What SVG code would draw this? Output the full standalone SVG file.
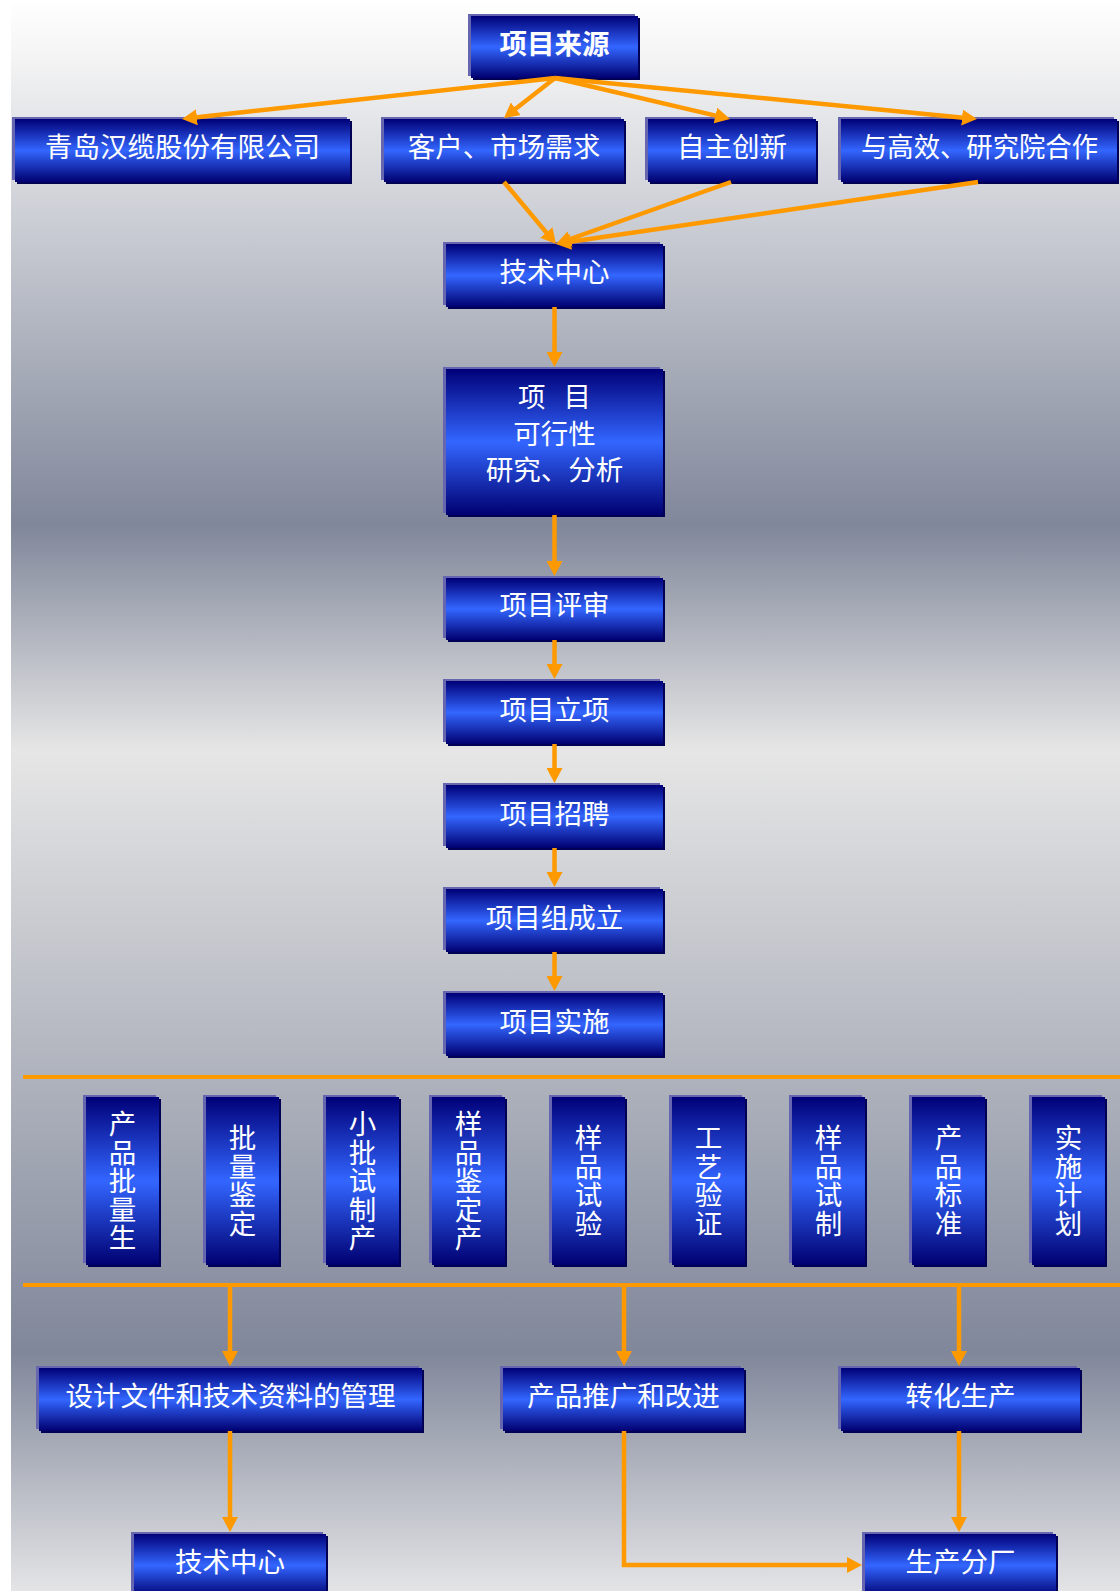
<svg xmlns="http://www.w3.org/2000/svg" width="1120" height="1591" viewBox="0 0 1120 1591">
<defs>
<linearGradient id="bg" x1="0" y1="0" x2="0" y2="1591" gradientUnits="userSpaceOnUse">
<stop offset="0" stop-color="#ffffff"/>
<stop offset="0.03" stop-color="#f6f6f6"/>
<stop offset="0.33" stop-color="#80879a"/>
<stop offset="0.472" stop-color="#e6e6e6"/>
<stop offset="0.85" stop-color="#80879a"/>
<stop offset="1" stop-color="#e4e4e6"/>
</linearGradient>
<linearGradient id="box" x1="0" y1="0" x2="0" y2="1">
<stop offset="0" stop-color="#000078"/>
<stop offset="0.5" stop-color="#3366ff"/>
<stop offset="1" stop-color="#000070"/>
</linearGradient>
<marker id="arr" markerUnits="userSpaceOnUse" markerWidth="16" markerHeight="16" refX="9" refY="8" orient="auto">
<path d="M0,0 L15,8 L0,16 z" fill="#ff9900"/>
</marker>
<style>
.hl{fill:#6666b0}
.sh{fill:#000055}
.mn{fill:url(#box)}
.t{font-family:"Noto Sans CJK SC","Noto Sans CJK JP",sans-serif;font-size:27.5px;fill:#ffffff;text-anchor:middle}
.b{font-weight:bold}
.c{stroke:#ff9900;stroke-width:4.5;fill:none}
.c path{marker-end:url(#arr)}
.rule{stroke:#ff9900;stroke-width:4;fill:none}
</style>
</defs>
<rect x="0" y="0" width="1120" height="1591" fill="#ffffff"/>
<rect x="11" y="0" width="1109" height="1591" fill="url(#bg)"/>

<g id="n-source"><rect class="sh" x="473" y="18" width="167" height="62"/><rect class="hl" x="468" y="14" width="167" height="62"/><rect class="mn" x="471" y="16" width="167" height="62"/><text class="t b" x="554.5" y="53.5">项目来源</text></g>

<g id="n-qingdao"><rect class="sh" x="17" y="121" width="335" height="63"/><rect class="hl" x="12" y="117" width="335" height="63"/><rect class="mn" x="15" y="119" width="335" height="63"/><text class="t" x="182.5" y="157">青岛汉缆股份有限公司</text></g>
<g id="n-market"><rect class="sh" x="386" y="121" width="240" height="63"/><rect class="hl" x="381" y="117" width="240" height="63"/><rect class="mn" x="384" y="119" width="240" height="63"/><text class="t" x="504" y="157">客户、市场需求</text></g>
<g id="n-innov"><rect class="sh" x="650" y="121" width="168" height="63"/><rect class="hl" x="645" y="117" width="168" height="63"/><rect class="mn" x="648" y="119" width="168" height="63"/><text class="t" x="732" y="157">自主创新</text></g>
<g id="n-coop"><rect class="sh" x="843" y="121" width="276" height="63"/><rect class="hl" x="838" y="117" width="276" height="63"/><rect class="mn" x="841" y="119" width="276" height="63"/><text class="t" x="979.5" y="157" textLength="237" lengthAdjust="spacingAndGlyphs">与高效、研究院合作</text></g>

<g id="n-tech1"><rect class="sh" x="448" y="246" width="217" height="63"/><rect class="hl" x="443" y="242" width="217" height="63"/><rect class="mn" x="446" y="244" width="217" height="63"/><text class="t" x="554.5" y="281.5">技术中心</text></g>
<g id="n-feas"><rect class="sh" x="448" y="371" width="217" height="146"/><rect class="hl" x="443" y="367" width="217" height="146"/><rect class="mn" x="446" y="369" width="217" height="146"/><text class="t" x="554.5" y="407" xml:space="preserve" word-spacing="12">项 目</text><text class="t" x="554.5" y="444">可行性</text><text class="t" x="554.5" y="480">研究、分析</text></g>
<g id="n-review"><rect class="sh" x="448" y="580" width="217" height="62"/><rect class="hl" x="443" y="576" width="217" height="62"/><rect class="mn" x="446" y="578" width="217" height="62"/><text class="t" x="554.5" y="615">项目评审</text></g>
<g id="n-approve"><rect class="sh" x="448" y="683" width="217" height="63"/><rect class="hl" x="443" y="679" width="217" height="63"/><rect class="mn" x="446" y="681" width="217" height="63"/><text class="t" x="554.5" y="719.5">项目立项</text></g>
<g id="n-recruit"><rect class="sh" x="448" y="787" width="217" height="63"/><rect class="hl" x="443" y="783" width="217" height="63"/><rect class="mn" x="446" y="785" width="217" height="63"/><text class="t" x="554.5" y="823.5">项目招聘</text></g>
<g id="n-team"><rect class="sh" x="448" y="891" width="217" height="63"/><rect class="hl" x="443" y="887" width="217" height="63"/><rect class="mn" x="446" y="889" width="217" height="63"/><text class="t" x="554.5" y="927.5">项目组成立</text></g>
<g id="n-impl"><rect class="sh" x="448" y="995" width="217" height="63"/><rect class="hl" x="443" y="991" width="217" height="63"/><rect class="mn" x="446" y="993" width="217" height="63"/><text class="t" x="554.5" y="1031.5">项目实施</text></g>

<g id="v1"><rect class="sh" x="88" y="1099" width="73" height="168"/><rect class="hl" x="83" y="1095" width="73" height="168"/><rect class="mn" x="86" y="1097" width="73" height="168"/><text class="t"><tspan x="122.5" y="1134">产</tspan><tspan x="122.5" y="1162.5">品</tspan><tspan x="122.5" y="1191">批</tspan><tspan x="122.5" y="1219.5">量</tspan><tspan x="122.5" y="1248">生</tspan></text></g>
<g id="v2"><rect class="sh" x="208" y="1099" width="73" height="168"/><rect class="hl" x="203" y="1095" width="73" height="168"/><rect class="mn" x="206" y="1097" width="73" height="168"/><text class="t"><tspan x="242.5" y="1148">批</tspan><tspan x="242.5" y="1177">量</tspan><tspan x="242.5" y="1205">鉴</tspan><tspan x="242.5" y="1234">定</tspan></text></g>
<g id="v3"><rect class="sh" x="328" y="1099" width="73" height="168"/><rect class="hl" x="323" y="1095" width="73" height="168"/><rect class="mn" x="326" y="1097" width="73" height="168"/><text class="t"><tspan x="362.5" y="1134">小</tspan><tspan x="362.5" y="1162.5">批</tspan><tspan x="362.5" y="1191">试</tspan><tspan x="362.5" y="1219.5">制</tspan><tspan x="362.5" y="1248">产</tspan></text></g>
<g id="v4"><rect class="sh" x="434" y="1099" width="73" height="168"/><rect class="hl" x="429" y="1095" width="73" height="168"/><rect class="mn" x="432" y="1097" width="73" height="168"/><text class="t"><tspan x="468.5" y="1134">样</tspan><tspan x="468.5" y="1162.5">品</tspan><tspan x="468.5" y="1191">鉴</tspan><tspan x="468.5" y="1219.5">定</tspan><tspan x="468.5" y="1248">产</tspan></text></g>
<g id="v5"><rect class="sh" x="554" y="1099" width="73" height="168"/><rect class="hl" x="549" y="1095" width="73" height="168"/><rect class="mn" x="552" y="1097" width="73" height="168"/><text class="t"><tspan x="588.5" y="1148">样</tspan><tspan x="588.5" y="1177">品</tspan><tspan x="588.5" y="1205">试</tspan><tspan x="588.5" y="1234">验</tspan></text></g>
<g id="v6"><rect class="sh" x="674" y="1099" width="73" height="168"/><rect class="hl" x="669" y="1095" width="73" height="168"/><rect class="mn" x="672" y="1097" width="73" height="168"/><text class="t"><tspan x="708.5" y="1148">工</tspan><tspan x="708.5" y="1177">艺</tspan><tspan x="708.5" y="1205">验</tspan><tspan x="708.5" y="1234">证</tspan></text></g>
<g id="v7"><rect class="sh" x="794" y="1099" width="73" height="168"/><rect class="hl" x="789" y="1095" width="73" height="168"/><rect class="mn" x="792" y="1097" width="73" height="168"/><text class="t"><tspan x="828.5" y="1148">样</tspan><tspan x="828.5" y="1177">品</tspan><tspan x="828.5" y="1205">试</tspan><tspan x="828.5" y="1234">制</tspan></text></g>
<g id="v8"><rect class="sh" x="914" y="1099" width="73" height="168"/><rect class="hl" x="909" y="1095" width="73" height="168"/><rect class="mn" x="912" y="1097" width="73" height="168"/><text class="t"><tspan x="948.5" y="1148">产</tspan><tspan x="948.5" y="1177">品</tspan><tspan x="948.5" y="1205">标</tspan><tspan x="948.5" y="1234">准</tspan></text></g>
<g id="v9"><rect class="sh" x="1034" y="1099" width="73" height="168"/><rect class="hl" x="1029" y="1095" width="73" height="168"/><rect class="mn" x="1032" y="1097" width="73" height="168"/><text class="t"><tspan x="1068.5" y="1148">实</tspan><tspan x="1068.5" y="1177">施</tspan><tspan x="1068.5" y="1205">计</tspan><tspan x="1068.5" y="1234">划</tspan></text></g>

<g id="n-docs"><rect class="sh" x="41" y="1370" width="383" height="63"/><rect class="hl" x="36" y="1366" width="383" height="63"/><rect class="mn" x="39" y="1368" width="383" height="63"/><text class="t" x="230.5" y="1406">设计文件和技术资料的管理</text></g>
<g id="n-promo"><rect class="sh" x="505" y="1370" width="241" height="63"/><rect class="hl" x="500" y="1366" width="241" height="63"/><rect class="mn" x="503" y="1368" width="241" height="63"/><text class="t" x="623.5" y="1406">产品推广和改进</text></g>
<g id="n-conv"><rect class="sh" x="843" y="1370" width="239" height="63"/><rect class="hl" x="838" y="1366" width="239" height="63"/><rect class="mn" x="841" y="1368" width="239" height="63"/><text class="t" x="960.5" y="1406">转化生产</text></g>
<g id="n-tech2"><rect class="sh" x="136" y="1536" width="192" height="63"/><rect class="hl" x="131" y="1532" width="192" height="63"/><rect class="mn" x="134" y="1534" width="192" height="63"/><text class="t" x="230" y="1572">技术中心</text></g>
<g id="n-plant"><rect class="sh" x="867" y="1536" width="191" height="63"/><rect class="hl" x="862" y="1532" width="191" height="63"/><rect class="mn" x="865" y="1534" width="191" height="63"/><text class="t" x="960.5" y="1572">生产分厂</text></g>

<g id="connectors">
<path class="rule" d="M23 1077 H1120"/>
<path class="rule" d="M23 1285 H1120"/>
<g class="c">
<path d="M555 78 L188 118.3"/>
<path d="M555 78 L508.7 114.3"/>
<path d="M555 78 L724.2 117.6"/>
<path d="M555 78 L971 118.4"/>
<path d="M504 182 L552.1 239.4"/>
<path d="M731 182 L561.7 242"/>
<path d="M978 182 L561.9 243.1"/>
<path d="M554.5 307 V361"/>
<path d="M554.5 515 V570"/>
<path d="M554.5 640 V673"/>
<path d="M554.5 744 V777"/>
<path d="M554.5 848 V881"/>
<path d="M554.5 952 V985"/>
<path d="M230 1285 V1360"/>
<path d="M624 1285 V1360"/>
<path d="M959 1285 V1360"/>
<path d="M230 1431 V1526"/>
<path d="M959 1431 V1526"/>
<path d="M624 1431 V1565 H856"/>
</g>
</g>
</svg>
